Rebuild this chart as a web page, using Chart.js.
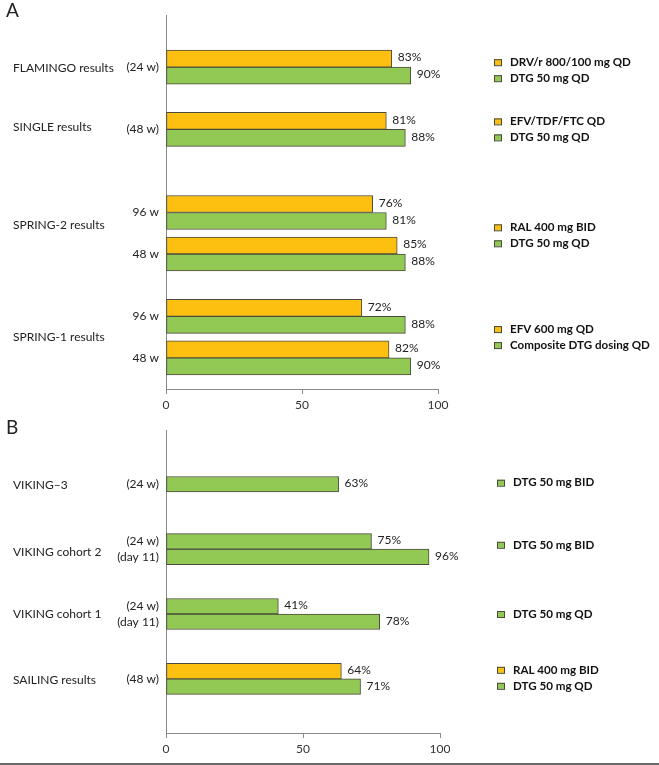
<!DOCTYPE html>
<html><head><meta charset="utf-8">
<script src="https://cdn.jsdelivr.net/npm/chart.js@4.4.0/dist/chart.umd.min.js"></script>
<style>
html,body{margin:0;padding:0;background:#fff;width:659px;height:765px;overflow:hidden;font-family:Lato,sans-serif}
#cA{position:absolute;left:0;top:0}
#cB{position:absolute;left:0;top:415px}
.panel{position:absolute;left:6px;font-size:19px;line-height:19px;color:#222}
#rule{position:absolute;left:0;top:763px;width:659px;height:2px;background:#6a6a6a}
</style></head><body>
<canvas id="cA" width="659" height="415"></canvas>
<canvas id="cB" width="659" height="350"></canvas>
<div class="panel" style="top:0px">A</div>
<div class="panel" style="top:417px">B</div>
<div id="rule"></div>
<script>
// ---------- Data: panel A ----------
const categoriesA = ['(24 w)', '(48 w)', '96 w', '48 w', '96 w', '48 w'];
const comparatorA = [83, 81, 76, 85, 72, 82];
const dtgA = [90, 88, 81, 88, 88, 90];
const studiesA = ['FLAMINGO results', 'SINGLE results', 'SPRING-2 results', 'SPRING-1 results'];
const legendA = [
  [['DRV/r 800/100 mg QD', 'comparator'], ['DTG 50 mg QD', 'dtg']],
  [['EFV/TDF/FTC QD', 'comparator'], ['DTG 50 mg QD', 'dtg']],
  [['RAL 400 mg BID', 'comparator'], ['DTG 50 mg QD', 'dtg']],
  [['EFV 600 mg QD', 'comparator'], ['Composite DTG dosing QD', 'dtg']]
];
// ---------- Data: panel B ----------
const categoriesB = ['(24 w)', ['(24 w)', '(day 11)'], ['(24 w)', '(day 11)'], '(48 w)'];
const comparatorB = [null, null, null, 64];
const dtgWeek24B = [null, 75, 41, null];
const dtgB = [63, 96, 78, 71];
const studiesB = ['VIKING\u20133', 'VIKING cohort 2', 'VIKING cohort 1', 'SAILING results'];
const legendB = [
  [['DTG 50 mg BID', 'dtg']],
  [['DTG 50 mg BID', 'dtg']],
  [['DTG 50 mg QD', 'dtg']],
  [['RAL 400 mg BID', 'comparator'], ['DTG 50 mg QD', 'dtg']]
];
const xTicks = [0, 50, 100];

// ---------- Layout / style ----------
const COLORS = { comparator: '#FDC010', dtg: '#92C954', border: '#4a4a3c', axis: '#8a8a8a', text: '#222' };
const FONT = 'Lato, sans-serif';
const layoutA = { slots: 18, rowSlot: [2, 5, 9, 11, 14, 16], studySlot: [2.05, 4.9, 9.6, 15], legendSlot: [2.15, 5, 10.1, 15],
  padTop: 4, padRight: 221, xHeight: 26, bar: 17, legendX: 494 };
const layoutB = { slots: 14, rowSlot: [2, 5, 8, 11], studySlot: [2.05, 5.15, 8, 11.05], legendSlot: [1.93, 4.8, 8, 10.95],
  padTop: 14, padRight: 219, xHeight: 32, bar: 15.5, legendX: 497 };

function spread(values, layout) {
  const out = new Array(layout.slots).fill(null);
  values.forEach((v, i) => { out[layout.rowSlot[i]] = v; });
  return out;
}
function spreadLabels(labels, layout) {
  const out = new Array(layout.slots).fill('');
  labels.forEach((v, i) => { out[layout.rowSlot[i]] = v; });
  return out;
}

function overlayPlugin(studies, legend, layout) {
  return {
    id: 'overlay',
    afterDatasetsDraw(chart) {
      const ctx = chart.ctx;
      const y = chart.scales.y;
      ctx.save();
      // value labels
      ctx.font = '12px ' + FONT;
      ctx.fillStyle = COLORS.text;
      ctx.textAlign = 'left';
      ctx.textBaseline = 'middle';
      chart.data.datasets.forEach((ds, di) => {
        const meta = chart.getDatasetMeta(di);
        meta.data.forEach((el, i) => {
          const v = ds.data[i];
          if (v === null || v === undefined) return;
          ctx.fillText(v + '%', el.x + 6, el.y - 1);
        });
      });
      // study names
      ctx.font = '12px ' + FONT;
      studies.forEach((s, i) => {
        ctx.fillText(s, 13, y.getPixelForValue(layout.studySlot[i]));
      });
      // legend
      ctx.font = 'bold 11.6px ' + FONT;
      legend.forEach((items, gi) => {
        const yc = y.getPixelForValue(layout.legendSlot[gi]);
        const n = items.length;
        items.forEach((it, k) => {
          const yy = yc + (k - (n - 1) / 2) * 16;
          ctx.fillStyle = COLORS[it[1]];
          ctx.fillRect(layout.legendX, yy - 3, 8, 6);
          ctx.strokeStyle = COLORS.border;
          ctx.lineWidth = 1;
          ctx.strokeRect(layout.legendX + 0.5, yy - 2.5, 7, 6);
          ctx.fillStyle = '#111';
          ctx.fillText(it[0], layout.legendX + 16, yy);
        });
      });
      ctx.restore();
    }
  };
}

function makeChart(id, labels, datasets, layout, studies, legend) {
  return new Chart(document.getElementById(id), {
    type: 'bar',
    data: { labels, datasets },
    options: {
      indexAxis: 'y',
      responsive: false,
      animation: false,
      layout: { padding: { top: layout.padTop, right: layout.padRight, left: 0, bottom: 0 } },
      datasets: { bar: { skipNull: true, barThickness: layout.bar, borderWidth: 1, borderColor: COLORS.border, borderSkipped: false } },
      plugins: { legend: { display: false }, tooltip: { enabled: false } },
      scales: {
        x: {
          min: 0, max: 100,
          afterBuildTicks: s => { s.ticks = xTicks.map(v => ({ value: v })); },
          afterFit: s => { s.height = layout.xHeight; },
          grid: { display: true, drawOnChartArea: false, drawTicks: true, tickLength: 5, color: COLORS.axis },
          border: { display: true, color: COLORS.axis, width: 1 },
          ticks: { padding: 4, color: '#333', font: { family: FONT, size: 12 } }
        },
        y: {
          afterFit: s => { s.width = 166; },
          grid: { display: false, drawTicks: false },
          border: { display: true, color: COLORS.axis, width: 1 },
          ticks: { autoSkip: false, padding: 7, color: COLORS.text, font: { family: FONT, size: 12, lineHeight: 1.36 } }
        }
      }
    },
    plugins: [overlayPlugin(studies, legend, layout)]
  });
}

makeChart('cA', spreadLabels(categoriesA, layoutA), [
  { label: 'Comparator', data: spread(comparatorA, layoutA), backgroundColor: COLORS.comparator },
  { label: 'DTG', data: spread(dtgA, layoutA), backgroundColor: COLORS.dtg }
], layoutA, studiesA, legendA);

makeChart('cB', spreadLabels(categoriesB, layoutB), [
  { label: 'RAL 400 mg BID', data: spread(comparatorB, layoutB), backgroundColor: COLORS.comparator },
  { label: 'DTG (24 w)', data: spread(dtgWeek24B, layoutB), backgroundColor: COLORS.dtg },
  { label: 'DTG', data: spread(dtgB, layoutB), backgroundColor: COLORS.dtg }
], layoutB, studiesB, legendB);
</script>
</body></html>
